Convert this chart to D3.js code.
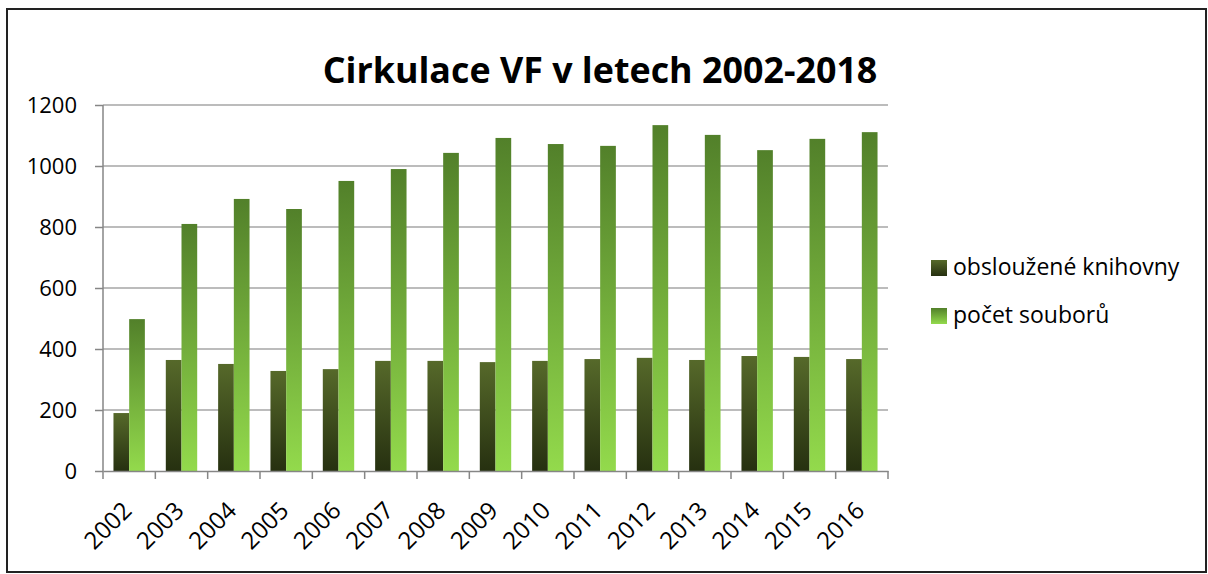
<!DOCTYPE html>
<html>
<head>
<meta charset="utf-8">
<title>Cirkulace VF v letech 2002-2018</title>
<script src="https://cdn.jsdelivr.net/npm/d3@7"></script>
<style>
  body { margin: 0; padding: 0; background: #fff; }
  text { font-family: "Open Sans", sans-serif; fill: #000; }
</style>
</head>
<body>
<div id="chart"></div>
<script>

const years = ['2002','2003','2004','2005','2006','2007','2008','2009','2010','2011','2012','2013','2014','2015','2016']
const knihovny = [190, 364, 351, 328, 334, 361, 361, 357, 361, 367, 371, 364, 377, 374, 367]
const soubory = [498, 810, 892, 859, 951, 990, 1043, 1092, 1072, 1066, 1134, 1102, 1052, 1089, 1111]
const seriesNames = ['obsloužené knihovny', 'počet souborů']
const yTicks = [0, 200, 400, 600, 800, 1000, 1200]
const title = 'Cirkulace VF v letech 2002-2018'

const width = 1208, height = 574
const plot = {left: 103, right: 888, top: 105, bottom: 471}
const font_size = 22
const grid_colour = '#a6a6a6'
const axis_colour = '#868686'

const rows = years.map((y, i) => ({year: y, values: [knihovny[i], soubory[i]]}))

const svg = d3.select('#chart').append('svg')
  .attr('width', width).attr('height', height)

// gradients per series (object bounding box, like the office chart)
const defs = svg.append('defs')
const grads = [['#56692a', '#263010'], ['#52802a', '#93da4c']]
grads.forEach((g, i) => {
  const lg = defs.append('linearGradient').attr('id', 'grad' + i)
    .attr('x1', 0).attr('y1', 0).attr('x2', 0).attr('y2', 1)
  lg.append('stop').attr('offset', '0%').attr('stop-color', g[0])
  lg.append('stop').attr('offset', '100%').attr('stop-color', g[1])
})

svg.append('rect')
  .attr('x', 7).attr('y', 9).attr('width', 1199).attr('height', 563)
  .style('fill', '#fff').style('stroke', '#222').style('stroke-width', 2)

const x0 = d3.scaleBand().domain(years).range([plot.left, plot.right])
const x1 = d3.scaleBand().domain([0, 1]).range([0, x0.bandwidth()]).paddingInner(0).paddingOuter(0.667)
const y = d3.scaleLinear().domain([0, 1200]).range([plot.bottom, plot.top])

// gridlines + y axis
const yAxis = svg.append('g').attr('transform', `translate(${plot.left},0)`)
  .call(d3.axisLeft(y).tickValues(yTicks).tickFormat(d3.format('d')).tickSize(8).tickPadding(18))
yAxis.select('.domain').remove()
yAxis.selectAll('.tick line').style('stroke', axis_colour).style('stroke-width', 1.5)
yAxis.selectAll('.tick text').style('font-size', font_size + 'px').style('font-family', '"Open Sans", sans-serif').style('fill', '#000')

svg.append('g').selectAll('line').data(yTicks.filter(d => d > 0)).enter()
  .append('line')
  .attr('x1', plot.left).attr('x2', plot.right)
  .attr('y1', d => y(d)).attr('y2', d => y(d))
  .style('stroke', grid_colour).style('stroke-width', 1.5)

// bars
svg.append('g').selectAll('g').data(rows).enter()
  .append('g')
  .attr('transform', d => `translate(${x0(d.year)},0)`)
  .selectAll('rect').data(d => d.values.map((v, k) => ({k: k, v: v}))).enter()
  .append('rect')
  .attr('x', d => x1(d.k))
  .attr('y', d => y(d.v))
  .attr('width', x1.bandwidth())
  .attr('height', d => y(0) - y(d.v))
  .style('fill', d => `url(#grad${d.k})`)

// axes lines
svg.append('line')
  .attr('x1', plot.left).attr('x2', plot.left).attr('y1', plot.top).attr('y2', plot.bottom)
  .style('stroke', axis_colour).style('stroke-width', 1.5)

const xAxis = svg.append('g').attr('transform', `translate(0,${plot.bottom})`)
  .call(d3.axisBottom(x0).tickSize(0).tickFormat(''))
xAxis.select('.domain').style('stroke', axis_colour).style('stroke-width', 1.5)

svg.append('g').selectAll('line').data(years.concat(['end'])).enter()
  .append('line')
  .attr('x1', (d, i) => i < years.length ? x0(d) : plot.right)
  .attr('x2', (d, i) => i < years.length ? x0(d) : plot.right)
  .attr('y1', plot.bottom).attr('y2', plot.bottom + 8)
  .style('stroke', axis_colour).style('stroke-width', 1.5)

svg.append('g').selectAll('text').data(years).enter()
  .append('text')
  .text(d => d)
  .style('font-size', '24px')
  .attr('text-anchor', 'end')
  .attr('transform', d => `translate(${x0(d) + x0.bandwidth() / 2 + 4},${plot.bottom + 41}) rotate(-45)`)

// title
const t = svg.append('text')
  .text(title)
  .attr('x', 600)
  .attr('y', 83)
  .attr('text-anchor', 'middle')
  .attr('font-weight', 700)
  .style('font-size', '40px')
const tw = t.node().getComputedTextLength()
t.style('font-size', (40 * 555 / tw) + 'px')

// legend
const legend = svg.append('g').selectAll('g').data(seriesNames).enter()
  .append('g')
  .attr('transform', (d, i) => `translate(931,${260 + i * 48})`)
legend.append('rect')
  .attr('width', 16).attr('height', 16)
  .style('fill', (d, i) => `url(#grad${i})`)
legend.append('text')
  .text(d => d)
  .attr('x', 22)
  .attr('y', 15)
  .style('font-size', '23px')

</script>
</body>
</html>
